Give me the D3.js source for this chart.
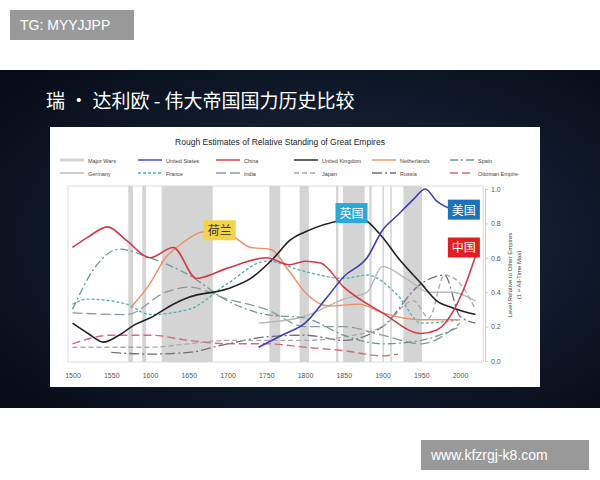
<!DOCTYPE html><html><head><meta charset="utf-8">
<script src="https://cdn.jsdelivr.net/npm/d3@7"></script>
<style>body{margin:0;background:#fff}svg{display:block}</style></head><body>
<svg id="c" width="600" height="480"></svg>
<script>
const xTicks=[1500,1550,1600,1650,1700,1750,1800,1850,1900,1950,2000];
const yTicks=[0,0.2,0.4,0.6,0.8,1.0];
const wars=[[1572,1578],[1590,1595],[1615,1681],[1754,1768],[1793,1805],[1840,1843],[1849,1877],[1883,1886],[1900,1902],[1910,1912],[1927,1951]];
const years={};
const china=[[1500,0.66],[1520,0.72],[1545,0.78],[1570,0.70],[1600,0.60],[1630,0.66],[1660,0.48],[1700,0.54],[1750,0.60],[1780,0.56],[1800,0.58],[1820,0.57],[1850,0.43],[1900,0.28],[1950,0.16],[1970,0.18],[1990,0.28],[2005,0.42],[2020,0.61]];
const us=[[1740,0.08],[1770,0.15],[1800,0.22],[1830,0.38],[1850,0.49],[1880,0.6],[1900,0.76],[1920,0.85],[1940,0.94],[1955,1.0],[1970,0.93],[1990,0.88],[2000,0.86]];
const uk=[[1500,0.22],[1520,0.16],[1540,0.11],[1560,0.15],[1580,0.21],[1600,0.25],[1630,0.33],[1650,0.37],[1700,0.42],[1730,0.48],[1760,0.6],[1780,0.7],[1800,0.75],[1850,0.82],[1870,0.83],[1900,0.72],[1920,0.6],[1950,0.45],[1970,0.35],[1990,0.31],[2020,0.27]];
const netherlands=[[1575,0.31],[1600,0.45],[1620,0.6],[1640,0.68],[1670,0.75],[1700,0.74],[1730,0.66],[1755,0.65],[1780,0.52],[1800,0.4],[1830,0.32],[1870,0.33],[1900,0.28],[1950,0.24],[2000,0.24]];
const france=[[1500,0.33],[1520,0.36],[1570,0.33],[1600,0.27],[1650,0.3],[1700,0.45],[1750,0.58],[1800,0.52],[1850,0.48],[1880,0.5],[1920,0.38],[1950,0.22],[2000,0.24]];
const spain=[[1500,0.3],[1530,0.55],[1560,0.65],[1600,0.6],[1650,0.5],[1700,0.35],[1750,0.27],[1800,0.25],[1850,0.15],[1900,0.1],[1950,0.12],[2000,0.2]];
const germany=[[1740,0.22],[1800,0.26],[1850,0.36],[1880,0.4],[1900,0.55],[1930,0.48],[1960,0.4],[1990,0.4],[2020,0.35]];
const india=[[1500,0.28],[1570,0.27],[1620,0.4],[1650,0.43],[1700,0.36],[1750,0.3],[1800,0.2],[1850,0.2],[1900,0.15],[1950,0.1],[2000,0.22]];
const japan=[[1500,0.08],[1600,0.08],[1650,0.1],[1700,0.12],[1800,0.12],[1850,0.14],[1900,0.2],[1940,0.35],[1960,0.25],[1980,0.5],[2000,0.45],[2020,0.3]];
const russia=[[1550,0.05],[1600,0.04],[1650,0.05],[1700,0.1],[1750,0.14],[1800,0.15],[1850,0.12],[1900,0.2],[1950,0.45],[1980,0.5],[2000,0.26],[2020,0.22]];
const ottoman=[[1500,0.1],[1550,0.15],[1600,0.15],[1650,0.12],[1700,0.1],[1750,0.1],[1800,0.08],[1850,0.06],[1900,0.03],[1920,0.04]];
const series=[
 {name:"United States",d:us,c:"#3b3fb8",w:1.6,dash:null},
 {name:"China",d:china,c:"#d03a4a",w:1.6,dash:null},
 {name:"United Kingdom",d:uk,c:"#222",w:1.6,dash:null},
 {name:"Netherlands",d:netherlands,c:"#e8916a",w:1.4,dash:null},
 {name:"Spain",d:spain,c:"#6e9a8a",w:1.3,dash:"8,3,2,3"},
 {name:"Germany",d:germany,c:"#b8b8b8",w:1.4,dash:null},
 {name:"France",d:france,c:"#4ab3b0",w:1.3,dash:"3,2"},
 {name:"India",d:india,c:"#8a9a98",w:1.3,dash:"10,4"},
 {name:"Japan",d:japan,c:"#a8a8a8",w:1.3,dash:"5,3"},
 {name:"Russia",d:russia,c:"#707078",w:1.3,dash:"10,3,2,3"},
 {name:"Ottoman Empire",d:ottoman,c:"#d86a78",w:1.4,dash:"8,4"}];
const legendOrder=["Major Wars","United States","China","United Kingdom","Netherlands","Spain","Germany","France","India","Japan","Russia","Ottoman Empire"];
const callouts=[{t:"荷兰",yr:1690,v:0.76,bg:"#f3d34a",fg:"#333"},{t:"英国",yr:1860,v:0.86,bg:"#2aa8d8",fg:"#fff"},{t:"美国",yr:2005,v:0.88,bg:"#1b72b8",fg:"#fff"},{t:"中国",yr:2005,v:0.66,bg:"#e01e24",fg:"#fff"}];

const svg=d3.select("#c");
// top white and bottom white, dark slide
const bg=svg.append("defs").append("radialGradient").attr("id","g").attr("cx","55%").attr("cy","50%").attr("r","70%");
bg.append("stop").attr("offset","0").attr("stop-color","#1d2c44");bg.append("stop").attr("offset","1").attr("stop-color","#070d18");
svg.append("rect").attr("x",0).attr("y",70).attr("width",600).attr("height",338).attr("fill","url(#g)");
svg.append("rect").attr("x",10).attr("y",10).attr("width",124).attr("height",30).attr("fill","#999");
svg.append("text").attr("x",20).attr("y",30).attr("fill","#fff").attr("font-family","Liberation Sans").attr("font-size",14).text("TG: MYYJJPP");
svg.append("rect").attr("x",421).attr("y",440).attr("width",168).attr("height",30).attr("fill","#999");
svg.append("text").attr("x",431).attr("y",460).attr("fill","#fff").attr("font-family","Liberation Sans").attr("font-size",14).text("www.kfzrgj-k8.com");
svg.append("text").attr("x",46).attr("y",108).attr("fill","#fff").attr("font-family","Noto Sans CJK SC").attr("font-size",19).text("瑞 · 达利欧 - 伟大帝国国力历史比较");
svg.append("rect").attr("x",50).attr("y",127).attr("width",490).attr("height",260).attr("fill","#fff");
svg.append("text").attr("x",280).attr("y",145).attr("text-anchor","middle").attr("font-family","Liberation Sans").attr("font-size",8.5).attr("fill","#222").text("Rough Estimates of Relative Standing of Great Empires");

const x=d3.scaleLinear().domain([1500,2000]).range([72.5,460]);
const y=d3.scaleLinear().domain([0,1]).range([361,189]);
const g=svg.append("g");
g.append("rect").attr("x",x(1494)).attr("y",186).attr("width",x(2030)-x(1494)).attr("height",176).attr("fill","none").attr("stroke","#ddd");
g.selectAll(".w").data(wars).join("rect").attr("x",d=>x(d[0])).attr("width",d=>x(d[1])-x(d[0])).attr("y",186).attr("height",176).attr("fill","#d4d4d4");
const line=d3.line().x(d=>x(d[0])).y(d=>y(d[1])).curve(d3.curveMonotoneX);
g.selectAll(".s").data(series.slice().reverse()).join("path").attr("d",d=>line(d.d)).attr("fill","none").attr("stroke",d=>d.c).attr("stroke-width",d=>d.w).attr("stroke-dasharray",d=>d.dash);
const xa=svg.append("g").attr("transform","translate(0,370)").call(d3.axisBottom(x).tickValues(xTicks).tickFormat(d3.format("d")).tickSize(0));
xa.select(".domain").remove();xa.selectAll("text").attr("font-size",7).attr("fill","#555").attr("font-family","Liberation Sans");
const ya=svg.append("g").attr("transform","translate(485,0)").call(d3.axisRight(y).tickValues(yTicks).tickFormat(d3.format(".1f")).tickSize(3));
ya.select(".domain").attr("stroke","#ccc");ya.selectAll("line").attr("stroke","#ccc");ya.selectAll("text").attr("font-size",7).attr("fill","#555").attr("font-family","Liberation Sans");
svg.append("text").attr("transform","translate(512,275) rotate(-90)").attr("text-anchor","middle").attr("font-size",6).attr("font-family","Liberation Sans").attr("fill","#444").text("Level Relative to Other Empires");
svg.append("text").attr("transform","translate(521,275) rotate(-90)").attr("text-anchor","middle").attr("font-size",6).attr("font-family","Liberation Sans").attr("fill","#444").text("(1 = All-Time Max)");
// legend
legendOrder.forEach((n,i)=>{const col=i%6,row=Math.floor(i/6);const lx=60+col*78,ly=160+row*13;
 const s=series.find(s=>s.name===n);
 svg.append("line").attr("x1",lx).attr("x2",lx+24).attr("y1",ly).attr("y2",ly).attr("stroke",s?s.c:"#d4d4d4").attr("stroke-width",s?1.4:3).attr("stroke-dasharray",s?s.dash:null);
 svg.append("text").attr("x",lx+28).attr("y",ly+2.5).attr("font-size",5.5).attr("font-family","Liberation Sans").attr("fill","#444").text(n);});
// callouts
callouts.forEach(c=>{const cx=x(c.yr),cy=y(c.v);
 svg.append("rect").attr("x",cx-16).attr("y",cy-10).attr("width",32).attr("height",20).attr("fill",c.bg);
 svg.append("text").attr("x",cx).attr("y",cy+5).attr("text-anchor","middle").attr("font-family","Noto Sans CJK SC").attr("font-size",12).attr("fill",c.fg).text(c.t);});
</script></body></html>
